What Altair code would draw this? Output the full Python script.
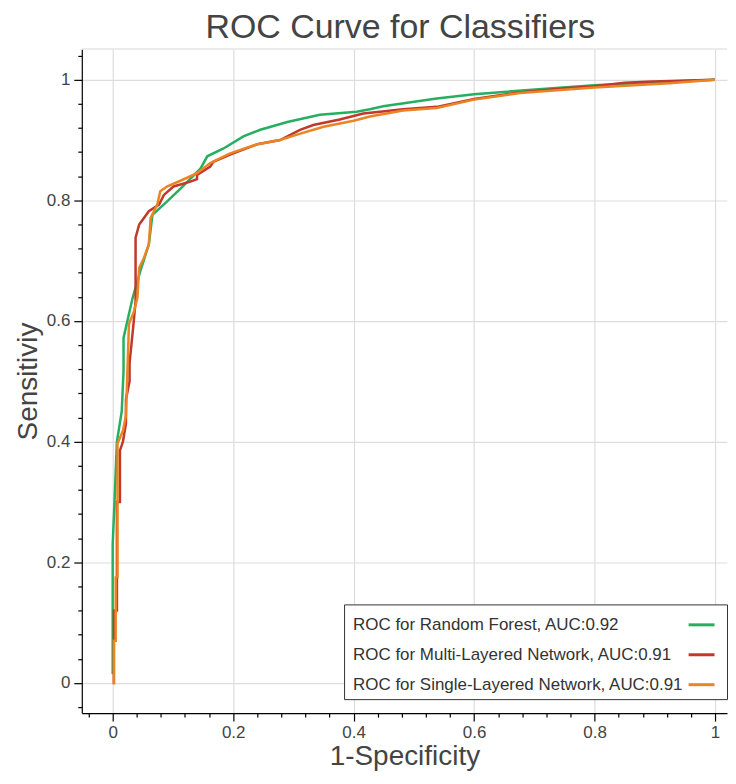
import altair as alt
import pandas as pd

# ---- data ----
models = [
    "ROC for Random Forest, AUC:0.92",
    "ROC for Multi-Layered Network, AUC:0.91",
    "ROC for Single-Layered Network, AUC:0.91",
]
colors = ["#27ae60", "#c0392b", "#eb8423"]

rf_fpr = [0.0, 0.0, 0.003, 0.007, 0.015, 0.018, 0.018, 0.033, 0.046, 0.060, 0.066, 0.090, 0.113, 0.146, 0.157,
          0.184, 0.217, 0.245, 0.290, 0.344, 0.405, 0.427, 0.449, 0.538, 0.600, 0.730, 0.800, 0.924, 1.0]
rf_tpr = [0.015, 0.230, 0.300, 0.400, 0.450, 0.517, 0.572, 0.638, 0.683, 0.727, 0.776, 0.798, 0.820, 0.853, 0.873,
          0.886, 0.906, 0.917, 0.930, 0.942, 0.947, 0.951, 0.956, 0.969, 0.976, 0.986, 0.991, 0.997, 1.0]

mlp_fpr = [0.0, 0.002, 0.002, 0.007, 0.007, 0.012, 0.012, 0.017, 0.022, 0.022,
           0.028, 0.028, 0.035, 0.038, 0.038, 0.044, 0.060, 0.077, 0.085, 0.101,
           0.129, 0.140, 0.140, 0.162, 0.167, 0.195, 0.240, 0.278, 0.311, 0.333,
           0.377, 0.416, 0.444, 0.482, 0.538, 0.600, 0.676, 0.750, 0.800, 0.850,
           0.896, 1.0]
mlp_tpr = [0.0, 0.0, 0.120, 0.120, 0.300, 0.300, 0.385, 0.400, 0.430, 0.470,
           0.500, 0.530, 0.600, 0.633, 0.738, 0.760, 0.782, 0.793, 0.809, 0.823,
           0.831, 0.835, 0.842, 0.856, 0.864, 0.876, 0.893, 0.900, 0.917, 0.925,
           0.934, 0.944, 0.947, 0.951, 0.955, 0.968, 0.979, 0.986, 0.989, 0.995,
           0.997, 1.0]

slp_fpr = [0.0, 0.002, 0.002, 0.005, 0.005, 0.008, 0.008, 0.017, 0.022, 0.025,
           0.027, 0.035, 0.041, 0.044, 0.052, 0.060, 0.063, 0.074, 0.079, 0.090,
           0.118, 0.140, 0.162, 0.195, 0.240, 0.278, 0.306, 0.350, 0.400, 0.427,
           0.482, 0.538, 0.600, 0.676, 0.800, 0.924, 1.0]
slp_tpr = [0.0, 0.0, 0.070, 0.070, 0.175, 0.175, 0.397, 0.418, 0.443, 0.534,
           0.595, 0.615, 0.638, 0.688, 0.705, 0.727, 0.771, 0.793, 0.815, 0.823,
           0.835, 0.845, 0.862, 0.878, 0.893, 0.900, 0.909, 0.922, 0.932, 0.939,
           0.949, 0.953, 0.967, 0.978, 0.987, 0.994, 1.0]

tick_values = [round(-0.04 + 0.04 * i, 2) for i in range(28)]

rows = []
for name, fx, fy in zip(models, [rf_fpr, mlp_fpr, slp_fpr], [rf_tpr, mlp_tpr, slp_tpr]):
    for i, (a, b) in enumerate(zip(fx, fy)):
        rows.append({"model": name, "fpr": a, "tpr": b, "i": i})
df = pd.DataFrame(rows)

MAJOR = "abs(datum.value*5 - round(datum.value*5)) < 0.000001"
LBL = MAJOR + " ? format(datum.value, '~g') : ''"

def make_axis(title, title_pad, label_pad):
    return alt.Axis(
        title=title, values=tick_values, labelExpr=LBL, labelOverlap=False,
        tickSize={"condition": {"test": MAJOR, "value": 8}, "value": 4},
        gridOpacity={"condition": {"test": MAJOR, "value": 1}, "value": 0},
        gridColor="#dddddd", gridWidth=1.2,
        domainColor="#000000", tickColor="#000000", domainWidth=1.2, tickWidth=1.2,
        labelFont="Liberation Sans", labelFontSize=17, labelColor="#444444", labelPadding=label_pad,
        titleFont="Liberation Sans", titleFontSize=28, titleFontWeight="normal", titleColor="#444444",
        titlePadding=title_pad,
    )

LEG_FS = 17
SYM = 26
SYM_X = round(19.506 * LEG_FS) + 6      # symbol sits to the right of the labels

W, H = 647, 666
lines = alt.Chart(df).mark_line(strokeWidth=2.5, clip=True).encode(
    x=alt.X("fpr:Q", scale=alt.Scale(domain=[-0.0513, 1.0199], nice=False, zero=False),
            axis=make_axis("1-Specificity", 3, 3)),
    y=alt.Y("tpr:Q", scale=alt.Scale(domain=[-0.05, 1.051], nice=False, zero=False),
            axis=make_axis("Sensitiviy", 4, 4)),
    color=alt.Color("model:N", scale=alt.Scale(domain=models, range=colors),
                    legend=alt.Legend(
                        title=None, orient="none", legendX=263, legendY=557,
                        symbolType="stroke", symbolSize=SYM * SYM, symbolStrokeWidth=3,
                        symbolOffset=SYM_X, labelOffset={"expr": str(-(SYM_X + SYM))},
                        labelLimit=500,
                        labelFont="Liberation Sans", labelFontSize=LEG_FS, labelColor="#333333",
                        padding=6, rowPadding=7, strokeColor="#333333", fillColor="white",
                        cornerRadius=0)),
    order=alt.Order("i:Q"),
)

border = alt.Chart(pd.DataFrame({"a": [0]})).mark_rule(color="#e5e5e5", strokeWidth=1.5).encode(
    x=alt.value(0), x2=alt.value(W), y=alt.value(0)
)

chart = alt.layer(border, lines).properties(
    width=W, height=H,
    title=alt.TitleParams("ROC Curve for Classifiers", font="Liberation Sans", fontSize=34,
                          fontWeight="normal", color="#444444", anchor="middle", offset=2, dx=-4),
    padding={"left": 6, "top": 1, "right": 0, "bottom": 0},
).configure_view(stroke=None)

chart.save("out.html", embed_options={"renderer": "svg", "actions": False})
